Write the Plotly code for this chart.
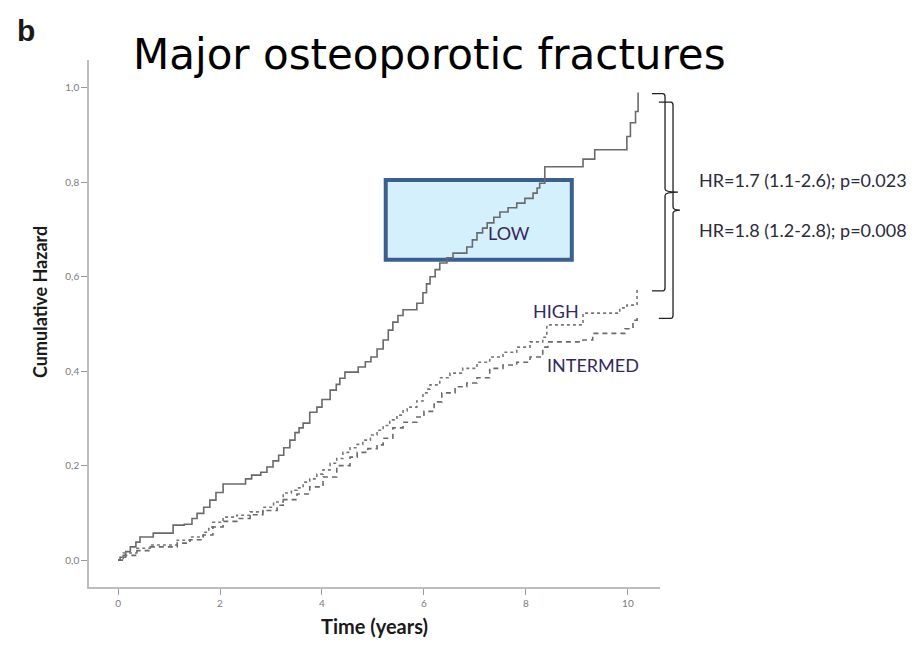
import plotly.graph_objects as go

# Cumulative hazard step curves by group (time in years, cumulative hazard)
low_t = [0.0, 0.04, 0.15, 0.24, 0.35, 0.43, 0.69, 1.08, 1.30, 1.45, 1.55, 1.68, 1.80, 1.92, 2.06,
         2.50, 2.62, 2.80, 2.92, 3.04, 3.15, 3.25, 3.37, 3.47, 3.55, 3.63, 3.76, 3.90, 4.00, 4.16,
         4.28, 4.35, 4.45, 4.71, 4.85, 4.96, 5.08, 5.20, 5.30, 5.39, 5.49, 5.59, 5.86, 5.98, 6.05,
         6.12, 6.22, 6.31, 6.45, 6.57, 6.84, 6.95, 7.04, 7.15, 7.24, 7.37, 7.49, 7.65, 7.82, 7.98,
         8.14, 8.22, 8.27, 8.37, 9.12, 9.35, 9.98, 10.05, 10.15, 10.20]
low_h = [0.0, 0.006, 0.018, 0.028, 0.038, 0.049, 0.057, 0.074, 0.076, 0.088, 0.099, 0.112, 0.127, 0.143, 0.161,
         0.172, 0.180, 0.186, 0.197, 0.210, 0.222, 0.238, 0.254, 0.270, 0.280, 0.290, 0.313, 0.324, 0.340, 0.360,
         0.372, 0.385, 0.398, 0.409, 0.420, 0.430, 0.447, 0.466, 0.487, 0.504, 0.518, 0.530, 0.544, 0.566, 0.585,
         0.600, 0.615, 0.629, 0.640, 0.650, 0.663, 0.678, 0.693, 0.703, 0.714, 0.726, 0.737, 0.746, 0.756, 0.766,
         0.777, 0.788, 0.798, 0.833, 0.849, 0.869, 0.897, 0.926, 0.950, 0.990]

high_t = [0.0, 0.10, 0.37, 0.63, 1.16, 1.41, 1.67, 1.78, 1.86, 2.06, 2.33, 2.59, 2.84, 3.05, 3.24,
          3.40, 3.51, 3.63, 3.76, 3.90, 4.02, 4.16, 4.29, 4.41, 4.55, 4.69, 4.80, 4.95, 5.08, 5.20,
          5.33, 5.47, 5.59, 5.67, 5.86, 5.98, 6.06, 6.12, 6.31, 6.51, 6.76, 7.04, 7.29, 7.55, 7.82,
          8.08, 8.33, 8.41, 9.12, 9.84, 9.98, 10.18]
high_h = [0.0, 0.015, 0.025, 0.032, 0.042, 0.049, 0.059, 0.070, 0.080, 0.091, 0.095, 0.102, 0.112, 0.123, 0.142,
          0.148, 0.153, 0.165, 0.172, 0.182, 0.191, 0.205, 0.215, 0.228, 0.238, 0.245, 0.254, 0.265, 0.275, 0.285,
          0.297, 0.307, 0.316, 0.324, 0.337, 0.354, 0.362, 0.371, 0.386, 0.396, 0.406, 0.419, 0.430, 0.440, 0.451,
          0.462, 0.472, 0.498, 0.523, 0.534, 0.540, 0.578]

inter_t = [0.0, 0.10, 0.37, 0.63, 1.16, 1.41, 1.67, 1.86, 2.06, 2.33, 2.59, 2.84, 3.12, 3.24, 3.51,
           3.76, 4.02, 4.29, 4.55, 4.69, 4.90, 5.08, 5.20, 5.39, 5.59, 5.86, 6.00, 6.20, 6.35, 6.61,
           6.84, 7.04, 7.29, 7.55, 7.82, 8.08, 8.33, 8.43, 9.12, 9.31, 9.94, 10.10, 10.18]
inter_h = [0.0, 0.010, 0.020, 0.028, 0.036, 0.043, 0.053, 0.070, 0.082, 0.088, 0.096, 0.105, 0.116, 0.128, 0.140,
           0.155, 0.176, 0.200, 0.218, 0.228, 0.236, 0.244, 0.258, 0.280, 0.292, 0.303, 0.315, 0.335, 0.354, 0.367,
           0.375, 0.386, 0.406, 0.413, 0.419, 0.430, 0.451, 0.462, 0.466, 0.480, 0.490, 0.508, 0.515]

x_ticks = [0, 2, 4, 6, 8, 10]
y_ticks = [0.0, 0.2, 0.4, 0.6, 0.8, 1.0]

hr_texts = ["HR=1.7 (1.1-2.6); p=0.023", "HR=1.8 (1.2-2.8); p=0.008"]

X_RANGE = [-0.57, 10.63]
Y_RANGE = [-0.057, 1.059]

LINE_GREY = "#6a6a6a"
LABEL_COLOR = "#33295e"

fig = go.Figure()

fig.add_trace(go.Scatter(x=low_t, y=low_h, mode="lines", line_shape="hv",
                         line=dict(color=LINE_GREY, width=1.6), name="LOW"))
fig.add_trace(go.Scatter(x=high_t, y=high_h, mode="lines", line_shape="hv",
                         line=dict(color="#777777", width=1.6, dash="dot"), name="HIGH"))
fig.add_trace(go.Scatter(x=inter_t, y=inter_h, mode="lines", line_shape="hv",
                         line=dict(color=LINE_GREY, width=1.6, dash="5px,4px"), name="INTERMED"))


def ypaper(v):
    return (v - Y_RANGE[0]) / (Y_RANGE[1] - Y_RANGE[0])


def brace_path(x0, x1, xtip, ytop, ybot):
    """Right-pointing brace between ytop and ybot (paper coords)."""
    ym = (ytop + ybot) / 2
    c = 0.006
    return (f"M {x0},{ytop} L {x1 - 0.004},{ytop} Q {x1},{ytop} {x1},{ytop - c} "
            f"L {x1},{ym + c} Q {x1},{ym} {xtip},{ym} Q {x1},{ym} {x1},{ym - c} "
            f"L {x1},{ybot + c} Q {x1},{ybot} {x1 - 0.004},{ybot} L {x0},{ybot}")


shapes = [
    # highlighted label box around the LOW curve
    dict(type="rect", xref="x", yref="y", x0=5.25, x1=8.9, y0=0.636, y1=0.805,
         line=dict(color="#3b5f8e", width=4), fillcolor="rgba(200,236,251,0.8)", layer="below"),
    # braces linking curve ends to the hazard ratios
    dict(type="path", xref="paper", yref="paper",
         path=brace_path(0.986, 1.0088, 1.0315, ypaper(high_h[-1] + 0.410), ypaper(high_h[-1] - 0.008)),
         line=dict(color="#222222", width=1.3)),
    dict(type="path", xref="paper", yref="paper",
         path=brace_path(0.998, 1.0228, 1.035, ypaper(inter_h[-1] + 0.455), ypaper(inter_h[-1] - 0.003)),
         line=dict(color="#222222", width=1.3)),
]

annotations = [
    dict(text="b", xref="paper", yref="paper", x=(15 - 89) / 571, y=(587 - 30) / 527,
         xanchor="left", yanchor="middle", showarrow=False,
         font=dict(family="Liberation Sans, Arial", size=30, color="#1a1a1a", weight="bold")),
    dict(text="Major osteoporotic fractures", xref="paper", yref="paper",
         x=(131 - 89) / 571, y=(587 - 55) / 527, xanchor="left", yanchor="middle", showarrow=False,
         font=dict(family="DejaVu Sans", size=42, color="#000000")),
    dict(text="<b>Cumulative Hazard</b>", xref="paper", yref="paper",
         x=(40 - 89) / 571, y=(587 - 302) / 527, textangle=-90, showarrow=False,
         xanchor="center", yanchor="middle",
         font=dict(family="Lato", size=18, color="#1a1a1a")),
    dict(text="LOW", xref="x", yref="y", x=7.67, y=0.693, showarrow=False,
         font=dict(family="Lato", size=18, color=LABEL_COLOR)),
    dict(text="HIGH", xref="x", yref="y", x=8.59, y=0.528, showarrow=False,
         font=dict(family="Lato", size=18, color=LABEL_COLOR)),
    dict(text="INTERMED", xref="x", yref="y", x=9.31, y=0.413, showarrow=False,
         font=dict(family="Lato", size=18, color=LABEL_COLOR)),
    dict(text=hr_texts[0], xref="paper", yref="y", x=(697 - 89) / 571, y=0.805,
         xanchor="left", showarrow=False, font=dict(family="Lato", size=18, color="#2b2b3b")),
    dict(text=hr_texts[1], xref="paper", yref="y", x=(697 - 89) / 571, y=0.700,
         xanchor="left", showarrow=False, font=dict(family="Lato", size=18, color="#2b2b3b")),
]

axis_common = dict(showgrid=False, zeroline=False, showline=True, linecolor="#bdbdbd", linewidth=1.6,
                   ticks="outside", ticklen=6, tickwidth=1.2, tickcolor="#9a9a9a",
                   tickfont=dict(family="Lato", size=10, color="#7a7a7a"))

fig.update_layout(
    width=920, height=654,
    margin=dict(l=89, r=260, t=60, b=67),
    paper_bgcolor="white", plot_bgcolor="white",
    showlegend=False,
    separators=",.",
    xaxis=dict(range=X_RANGE, tickvals=x_ticks, tickformat="d",
               title=dict(text="<b>Time (years)</b>", standoff=12,
                          font=dict(family="Lato", size=20, color="#1a1a1a")),
               **axis_common),
    yaxis=dict(range=Y_RANGE, tickvals=y_ticks, tickformat=".1f", **axis_common),
    shapes=shapes,
    annotations=annotations,
)

fig.write_html("out.html")
